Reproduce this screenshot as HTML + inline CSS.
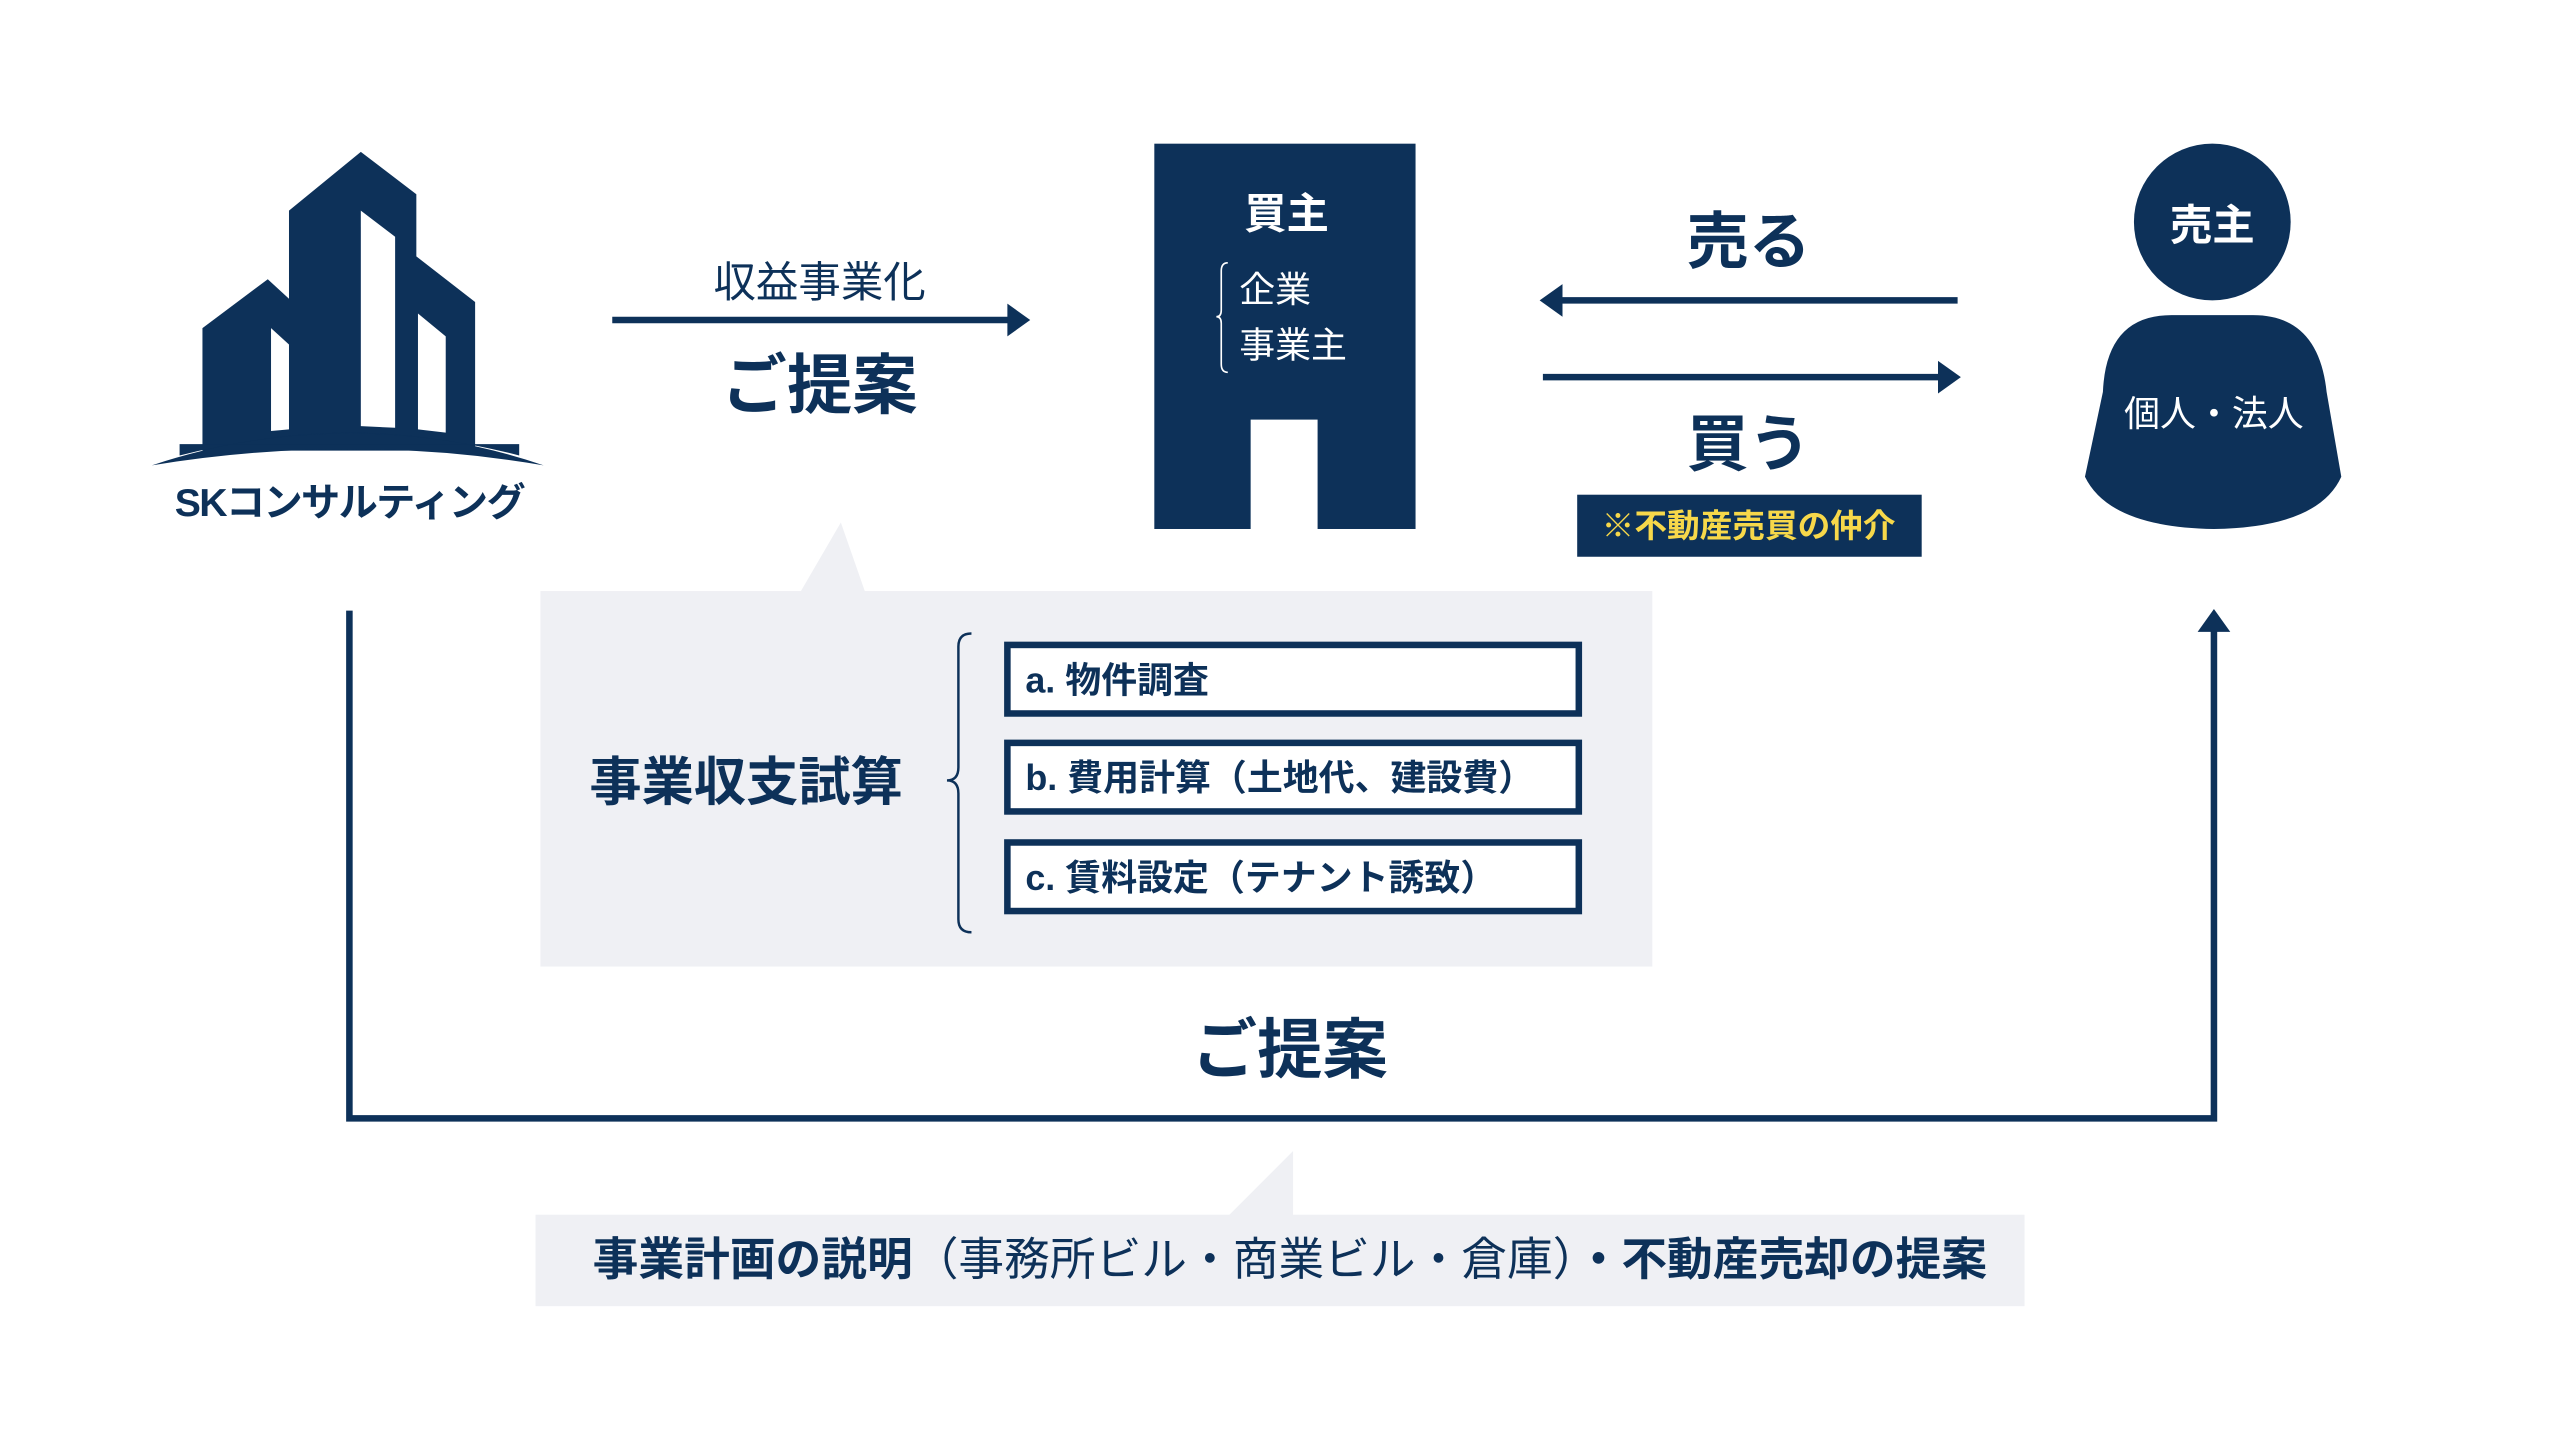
<!DOCTYPE html>
<html><head><meta charset="utf-8"><style>
html,body{margin:0;padding:0;background:#fff;}
body{width:2560px;height:1440px;overflow:hidden;position:relative;}
#s{position:absolute;left:0;top:0;width:1568px;height:882px;transform:scale(1.6327);transform-origin:0 0;font-family:"Liberation Sans","Noto Sans CJK JP",sans-serif;color:#0d3159;}
.t{position:absolute;white-space:nowrap;line-height:1;}
.c{transform:translate(-50%,-50%);}
.b{font-weight:bold;}
.box{position:absolute;left:615px;width:337px;height:38px;border:4px solid #0d3159;background:#fff;font-weight:bold;font-size:22px;line-height:40px;padding-left:9px;box-sizing:content-box;}
</style></head><body><div id="s">
<svg width="1568" height="882" style="position:absolute;left:0;top:0">
<g fill="#0d3159">
<path d="M124,276 L124,201 L164,171 L177,183 L177,129 L221,93 L255,119 L255,157 L291,185 L291,276 Z"/>
<path d="M93,285 Q215,245 333,285 Q215,265 93,285 Z"/>
<path d="M110,279 Q215,252 318,279 L318,272 L110,272 Z"/>
</g>
<g fill="#fff">
<path d="M166,201 L177,211 L177,263 L166,264 Z"/>
<path d="M221,129 L242,145 L242,262 L221,261 Z"/>
<path d="M256,192 L273,206 L273,265 L256,263 Z"/>
</g>
<g stroke="#0d3159" stroke-width="4" fill="none">
<line x1="375" y1="196" x2="625" y2="196"/>
<line x1="950" y1="184" x2="1199" y2="184"/>
<line x1="945" y1="231" x2="1194" y2="231"/>
<polyline points="214,374 214,685 1356,685 1356,380"/>
</g>
<g fill="#0d3159">
<path d="M617,186 L631,196 L617,206 Z"/>
<path d="M957,174 L943,184 L957,194 Z"/>
<path d="M1187,221 L1201,231 L1187,241 Z"/>
<path d="M1346,387 L1356,373 L1366,387 Z"/>
<rect x="707" y="88" width="160" height="236"/>
<rect x="966" y="303" width="211" height="38"/>
<circle cx="1355" cy="136" r="48"/>
<path d="M1288,240 Q1290,193 1330,193 L1380,193 Q1420,193 1425,240 L1434,292 Q1420,323 1356,324 Q1292,323 1277,292 Z"/>
</g>
<rect x="766" y="257" width="41" height="68" fill="#fff"/>
<path d="M752,161 Q748,161 748,166 L748,190 Q748,194 745,194 Q748,194 748,198 L748,223 Q748,228 752,228" stroke="#fff" stroke-width="1" fill="none"/>
<g fill="#eff0f4">
<rect x="331" y="362" width="681" height="230"/>
<path d="M490,363 L515,320 L530,363 Z"/>
<rect x="328" y="744" width="912" height="56"/>
<path d="M752,745 L792,705 L792,745 Z"/>
</g>
<path d="M595,388 Q587,388 587,396 L587,470 Q587,478 580,478 Q587,478 587,486 L587,563 Q587,571 595,571" stroke="#0d3159" stroke-width="1.5" fill="none"/>
</svg>
<div class="t c b" style="left:214px;top:309px;font-size:24px;letter-spacing:-1px">SKコンサルティング</div>
<div class="t c" style="left:502px;top:173px;font-size:26px">収益事業化</div>
<div class="t c b" style="left:502px;top:237px;font-size:40px">ご提案</div>
<div class="t c b" style="left:788px;top:131px;font-size:26px;color:#fff">買主</div>
<div class="t" style="left:759px;top:167px;font-size:22px;color:#fff">企業</div>
<div class="t" style="left:759px;top:201px;font-size:22px;color:#fff">事業主</div>
<div class="t c b" style="left:1071px;top:149px;font-size:38px">売る</div>
<div class="t c b" style="left:1071px;top:273px;font-size:38px">買う</div>
<div class="t c b" style="left:1071px;top:323px;font-size:20px;color:#f7d84a">※不動産売買の仲介</div>
<div class="t c b" style="left:1355px;top:138px;font-size:26px;color:#fff">売主</div>
<div class="t c" style="left:1356px;top:254px;font-size:22px;color:#fff">個人・法人</div>
<div class="t c b" style="left:457px;top:479px;font-size:32px">事業収支試算</div>
<div class="box" style="top:393px">a. 物件調査</div>
<div class="box" style="top:453px">b. 費用計算（土地代、建設費）</div>
<div class="box" style="top:514px">c. 賃料設定（テナント誘致）</div>
<div class="t c b" style="left:790px;top:644px;font-size:40px">ご提案</div>
<div class="t" style="left:363px;top:758px;font-size:28px"><b>事業計画の説明</b>（事務所ビル・商業ビル・倉庫）<b>・不動産売却の提案</b></div>
</div></body></html>
